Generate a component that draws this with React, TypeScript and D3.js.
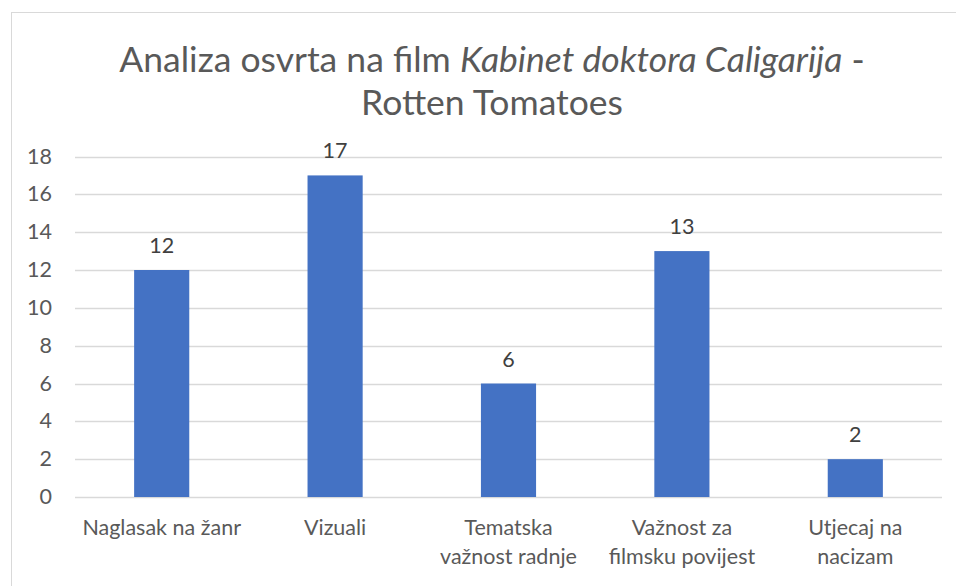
import React from "react";
import * as d3 from "d3";

const categories: string[][] = [
  ["Naglasak na žanr"],
  ["Vizuali"],
  ["Tematska", "važnost radnje"],
  ["Važnost za", "filmsku povijest"],
  ["Utjecaj na", "nacizam"],
];
const values: number[] = [12, 17, 6, 13, 2];
const yTicks: number[] = [0, 2, 4, 6, 8, 10, 12, 14, 16, 18];

const W = 956;
const H = 586;
const FONT = "Lato, 'Open Sans', sans-serif";

export default function App() {
  const left = 75, right = 942, top = 156.5, bottom = 497;
  const keys = categories.map((c) => c.join(" "));
  const x = d3.scaleBand<string>().domain(keys).range([left, right]).paddingInner(0.682).paddingOuter(0.341);
  const y = d3.scaleLinear().domain([0, 18]).range([bottom, top]);
  return (
    <svg width={W} height={H} style={{ position: "absolute", left: 0, top: 0, background: "#fff" }}>
      <rect x={11.5} y={12.5} width={W + 20} height={H + 20} fill="#fff" stroke="#d9d9d9" strokeWidth={1} />
      <text x={492} y={72} textAnchor="middle" fontFamily={FONT} fontSize={35.5} fill="#595959">
        Analiza osvrta na film <tspan fontStyle="italic">Kabinet doktora Caligarija</tspan> -
      </text>
      <text x={492} y={115} textAnchor="middle" fontFamily={FONT} fontSize={35.5} fill="#595959">
        Rotten Tomatoes
      </text>
      {yTicks.map((t) => (
        <g key={t}>
          <line x1={left} x2={right} y1={Math.round(y(t)) + 0.5} y2={Math.round(y(t)) + 0.5} stroke="#d9d9d9" strokeWidth={1.5} />
          <text x={52} y={y(t) + 7} textAnchor="end" fontFamily={FONT} fontSize={21.5} fill="#595959">
            {t}
          </text>
        </g>
      ))}
      {values.map((v, i) => {
        const k = keys[i];
        const bx = x(k)!;
        const bw = x.bandwidth();
        return (
          <g key={k}>
            <rect x={bx} y={y(v)} width={bw} height={y(0) - y(v)} fill="#4472C4" />
            <text x={bx + bw / 2} y={y(v) - 17} textAnchor="middle" fontFamily={FONT} fontSize={21.5} fill="#404040">
              {v}
            </text>
          </g>
        );
      })}
      {categories.map((lines, i) => {
        const cx = x(keys[i])! + x.bandwidth() / 2;
        return (
          <text key={i} x={cx} y={535} textAnchor="middle" fontFamily={FONT} fontSize={21.5} fill="#595959">
            {lines.map((l, j) => (
              <tspan key={j} x={cx} dy={j === 0 ? 0 : 29}>
                {l}
              </tspan>
            ))}
          </text>
        );
      })}
    </svg>
  );
}
